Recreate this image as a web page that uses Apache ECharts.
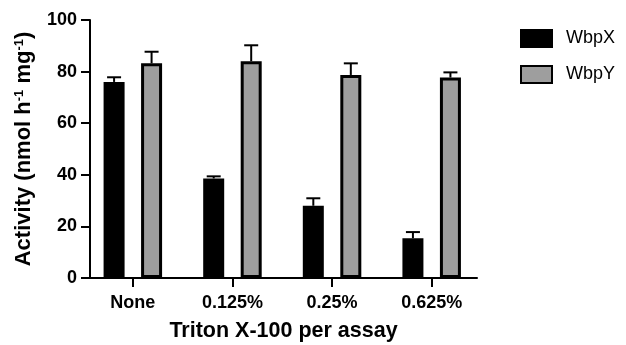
<!DOCTYPE html>
<html><head><meta charset="utf-8">
<script src="https://cdn.jsdelivr.net/npm/echarts@6/dist/echarts.min.js"></script>
<style>html,body{margin:0;padding:0;background:#fff}#c{width:626px;height:345px}</style>
</head><body><div id="c"></div>
<script>
const categories = ['None', '0.125%', '0.25%', '0.625%'];
const wbpx = [76.0, 38.6, 28.0, 15.4];
const wbpxErr = [1.8, 0.8, 2.9, 2.4];
const wbpy = [83.2, 84.0, 78.7, 77.7];
const wbpyErr = [4.5, 6.2, 4.5, 2.0];
const yTicks = [0, 20, 40, 60, 80, 100];

const FONT = "'Liberation Sans', Arial, sans-serif";
const BAR_W = 21, GAP_PX = 16.5, HALF = (BAR_W + GAP_PX) / 2;

function errSeries(vals, errs, side) {
  return {
    type: 'custom', z: 5, silent: true,
    data: vals.map((v, i) => [i, v, errs[i]]),
    renderItem: function (params, api) {
      const i = api.value(0), v = api.value(1), e = api.value(2);
      const x = api.coord([i, 0])[0] + side * HALF;
      const yb = api.coord([i, v])[1];
      const yt = api.coord([i, v + e])[1];
      const st = { stroke: '#000', lineWidth: 2 };
      return { type: 'group', children: [
        { type: 'line', shape: { x1: x, y1: yb, x2: x, y2: yt }, style: st },
        { type: 'line', shape: { x1: x - 7, y1: yt, x2: x + 7, y2: yt }, style: st }
      ]};
    }
  };
}

const chart = echarts.init(document.getElementById('c'));
chart.setOption({
  animation: false,
  textStyle: { fontFamily: FONT },
  grid: { left: 90, right: 149, top: 20, bottom: 67, containLabel: false, outerBoundsMode: 'none' },
  legend: {
    data: ['WbpX', 'WbpY'], orient: 'vertical', left: 520, top: 29, icon: 'rect', padding: 0,
    itemWidth: 31, itemHeight: 17, itemGap: 17,
    textStyle: { fontSize: 18, color: '#000', fontFamily: FONT, padding: [0, 0, 0, 9] }
  },
  xAxis: {
    type: 'value', min: -0.43, max: 3.455,
    name: 'Triton X-100 per assay', nameLocation: 'middle', nameGap: 42,
    nameTextStyle: { fontSize: 21.5, fontWeight: 'bold', color: '#000', fontFamily: FONT },
    splitLine: { show: false },
    axisLine: { onZero: false, lineStyle: { color: '#000', width: 2 } },
    axisTick: { customValues: [0, 1, 2, 3], length: 9, lineStyle: { color: '#000', width: 2 } },
    axisLabel: { customValues: [0, 1, 2, 3], formatter: v => categories[Math.round(v)],
      fontSize: 18, fontWeight: 'bold', color: '#000', margin: 16, fontFamily: FONT }
  },
  yAxis: {
    type: 'value', min: 0, max: 100, interval: 20,
    name: 'Activity (nmol h{sup|-1} mg{sup|-1})', nameLocation: 'middle', nameGap: 55,
    nameTextStyle: { fontSize: 22, fontWeight: 'bold', color: '#000', fontFamily: FONT,
      rich: { sup: { fontSize: 13, fontWeight: 'bold', color: '#000', verticalAlign: 'top', padding: [0, 0, 9, 0], fontFamily: FONT } } },
    splitLine: { show: false },
    axisLine: { show: true, onZero: false, lineStyle: { color: '#000', width: 2 } },
    axisTick: { show: true, length: 9, lineStyle: { color: '#000', width: 2 } },
    axisLabel: { fontSize: 18, fontWeight: 'bold', color: '#000', margin: 13, fontFamily: FONT }
  },
  series: [
    { name: 'WbpX', type: 'bar', barWidth: BAR_W, barGap: (GAP_PX / BAR_W * 100) + '%',
      data: wbpx.map((v, i) => [i, v]),
      itemStyle: { color: '#000', borderColor: '#000', borderWidth: 3 } },
    { name: 'WbpY', type: 'bar', barWidth: BAR_W,
      data: wbpy.map((v, i) => [i, v]),
      itemStyle: { color: '#9e9e9e', borderColor: '#000', borderWidth: 3 } },
    errSeries(wbpx, wbpxErr, -1),
    errSeries(wbpy, wbpyErr, 1)
  ]
});
</script></body></html>
